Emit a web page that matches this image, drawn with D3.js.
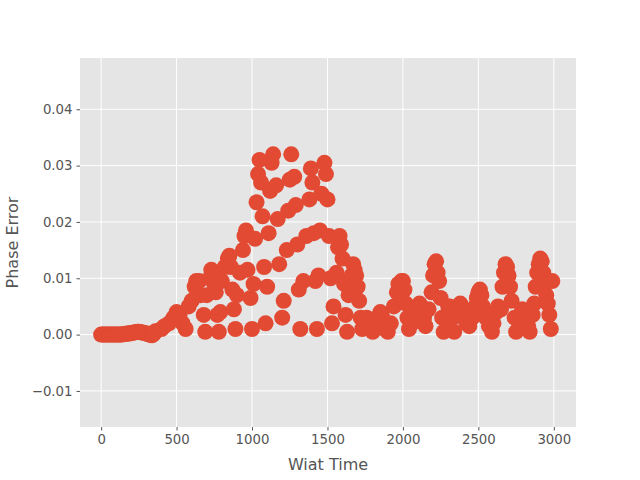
<!DOCTYPE html>
<html>
<head>
<meta charset="utf-8">
<script src="https://cdn.jsdelivr.net/npm/d3@7"></script>
<style>
  body { margin: 0; background: #fff; }
  text { font-family: "DejaVu Sans", sans-serif; }
</style>
</head>
<body>
<svg id="chart" width="640" height="480"></svg>
<script>
// wait time values (x) and phase error values (y)
const waitTime = [
  0, 10, 20, 30, 40, 50, 60, 70, 80, 90, 100, 110, 120, 130, 140, 150, 160, 170, 180, 190,
  200, 210, 220, 230, 240, 250, 260, 270, 280, 290, 300, 310, 320, 330, 340, 350, 360,
  400, 420, 450, 480, 500, 520, 540, 560, 580, 600, 620, 630, 650, 660, 680, 690,
  700, 720, 730, 740, 750, 760, 770, 780, 790, 800, 820, 840, 850, 860, 870, 880, 890,
  900, 920, 940, 950, 960, 970, 990, 1000, 1010, 1020, 1030, 1040, 1050, 1060, 1070, 1080, 1090,
  1100, 1110, 1120, 1130, 1140, 1160, 1170, 1180, 1200, 1210, 1230, 1240, 1250, 1260, 1280, 1290,
  1300, 1310, 1320, 1340, 1360, 1380, 1390, 1400, 1410, 1420, 1430, 1440, 1450, 1460, 1480, 1490,
  1500, 1510, 1520, 1530, 1540, 1560, 1570, 1580, 1590, 1600, 1610, 1620, 1630, 1640, 1660, 1670, 1680, 1690,
  1700, 1710, 1720, 1730, 1740, 1760, 1780, 1800, 1810, 1830, 1850, 1860, 1870, 1880,
  1900, 1920, 1940, 1960, 1970, 1990, 2000, 2010, 2020, 2030, 2040, 2060, 2080,
  2100, 2110, 2120, 2140, 2150, 2170, 2190, 2200, 2210, 2220, 2230, 2240, 2250, 2260, 2270, 2290,
  2300, 2310, 2330, 2340, 2360, 2380, 2390, 2400, 2420, 2440, 2460, 2480, 2490,
  2500, 2510, 2520, 2530, 2550, 2570, 2590, 2600, 2620, 2630, 2650, 2660, 2670, 2680, 2690,
  2700, 2710, 2720, 2740, 2750, 2770, 2790, 2800, 2820, 2830, 2840, 2860, 2870, 2880, 2890,
  2900, 2910, 2920, 2930, 2940, 2950, 2960, 2970, 2980, 2990
];
const phaseError = [
  0, 0, 0, 0, 0, 0, 0, 0, 0, 0, 0, 0, 0, 0, 0, 0.0001, 0.0001, 0.0002, 0.0002, 0.0002,
  0.0003, 0.0003, 0.0004, 0.0004, 0.0005, 0.0005, 0.0004, 0.0004, 0.0003, 0.0003, 0.0002, 0.0001, 0, -0.0001, -0.0001, 0.0002, 0.0006,
  0.001, 0.0015, 0.002, 0.003, 0.004, 0.0035, 0.002, 0.001, 0.005, 0.006, 0.0085, 0.0095, 0.0095, 0.007, 0.0035, 0.0005,
  0.007, 0.01, 0.0115, 0.011, 0.009, 0.0075, 0.0035, 0.0005, 0.004, 0.0095, 0.012, 0.0135, 0.014, 0.012, 0.008, 0.0045, 0.001,
  0.007, 0.011, 0.015, 0.0175, 0.0185, 0.0115, 0.0065, 0.001, 0.009, 0.017, 0.0235, 0.0285, 0.031, 0.027, 0.021, 0.012, 0.002,
  0.0085, 0.018, 0.0255, 0.0305, 0.032, 0.0265, 0.0205, 0.0125, 0.003, 0.006, 0.015, 0.022, 0.0275, 0.032, 0.028, 0.023,
  0.016, 0.008, 0.001, 0.0095, 0.0175, 0.024, 0.0295, 0.027, 0.018, 0.0095, 0.001, 0.0105, 0.0185, 0.025, 0.0305, 0.0285,
  0.024, 0.0175, 0.01, 0.002, 0.005, 0.011, 0.0155, 0.0175, 0.016, 0.0135, 0.009, 0.0035, 0.0005, 0.007, 0.0105, 0.0125, 0.0115, 0.0105,
  0.0085, 0.006, 0.003, 0.001, 0.0015, 0.003, 0.0025, 0.0005, 0.0015, 0.003, 0.004, 0.0035, 0.0025, 0.001,
  0.0005, 0.002, 0.005, 0.0075, 0.009, 0.0095, 0.0095, 0.008, 0.0055, 0.003, 0.001, 0.002, 0.004,
  0.005, 0.0055, 0.004, 0.003, 0.0015, 0.0045, 0.0075, 0.0105, 0.0125, 0.013, 0.011, 0.0095, 0.0065, 0.003, 0.0005, 0.0025,
  0.005, 0.005, 0.003, 0.0005, 0.0035, 0.0055, 0.005, 0.004, 0.002, 0.0015, 0.003, 0.005, 0.0065,
  0.0075, 0.008, 0.007, 0.005, 0.003, 0.0015, 0.0005, 0.002, 0.004, 0.005, 0.0045, 0.0085, 0.011, 0.0125, 0.012,
  0.0105, 0.0085, 0.006, 0.003, 0.0005, 0.002, 0.0045, 0.004, 0.003, 0.0015, 0.0005, 0.0035, 0.0055, 0.0085, 0.011,
  0.0125, 0.0135, 0.013, 0.011, 0.009, 0.007, 0.0055, 0.0035, 0.001, 0.0095
];
const xTicks = [0, 500, 1000, 1500, 2000, 2500, 3000];
const yTicks = [-0.01, 0, 0.01, 0.02, 0.03, 0.04];

const margin = { left: 80, right: 64, top: 58, bottom: 53 };
const width = 640, height = 480;
const svg = d3.select("#chart");

const x = scaleX = d3.scaleLinear().domain([-140, 3147]).range([margin.left, width - margin.right]);
const y = d3.scaleLinear().domain([-0.0164, 0.0491]).range([height - margin.bottom, margin.top]);

// plot background
svg.append("rect")
  .attr("x", margin.left).attr("y", margin.top)
  .attr("width", width - margin.left - margin.right)
  .attr("height", height - margin.top - margin.bottom)
  .attr("fill", "#E5E5E5");

// grid
svg.append("g").selectAll("line").data(xTicks).join("line")
  .attr("x1", d => x(d)).attr("x2", d => x(d))
  .attr("y1", margin.top).attr("y2", height - margin.bottom)
  .attr("stroke", "#fff");
svg.append("g").selectAll("line").data(yTicks).join("line")
  .attr("x1", margin.left).attr("x2", width - margin.right)
  .attr("y1", d => y(d)).attr("y2", d => y(d))
  .attr("stroke", "#fff");

// points
const pts = waitTime.map((t, i) => ({ x: t, y: phaseError[i] }));
svg.append("g").selectAll("circle").data(pts).join("circle")
  .attr("cx", d => x(d.x)).attr("cy", d => y(d.y))
  .attr("r", 8).attr("fill", "#E24A33");

// axes
const xAxis = svg.append("g")
  .attr("transform", `translate(0,${height - margin.bottom})`)
  .call(d3.axisBottom(x).tickValues(xTicks).tickSize(3.5).tickPadding(4).tickFormat(d3.format("d")));
const yAxis = svg.append("g")
  .attr("transform", `translate(${margin.left},0)`)
  .call(d3.axisLeft(y).tickValues(yTicks).tickSize(3.5).tickPadding(4)
    .tickFormat(d => d < 0 ? "\u2212" + Math.abs(d).toFixed(2) : d.toFixed(2)));
[xAxis, yAxis].forEach(a => {
  a.select(".domain").remove();
  a.selectAll(".tick line").attr("stroke", "#555");
  a.selectAll(".tick text").attr("fill", "#555").style("font-size", "13.3px");
});

// labels
svg.append("text")
  .attr("x", (margin.left + width - margin.right) / 2).attr("y", height - 10)
  .attr("text-anchor", "middle").attr("fill", "#555").style("font-size", "16px")
  .text("Wiat Time");
svg.append("text")
  .attr("transform", `translate(18,${(margin.top + height - margin.bottom) / 2}) rotate(-90)`)
  .attr("text-anchor", "middle").attr("fill", "#555").style("font-size", "16px")
  .text("Phase Error");
</script>
</body>
</html>
